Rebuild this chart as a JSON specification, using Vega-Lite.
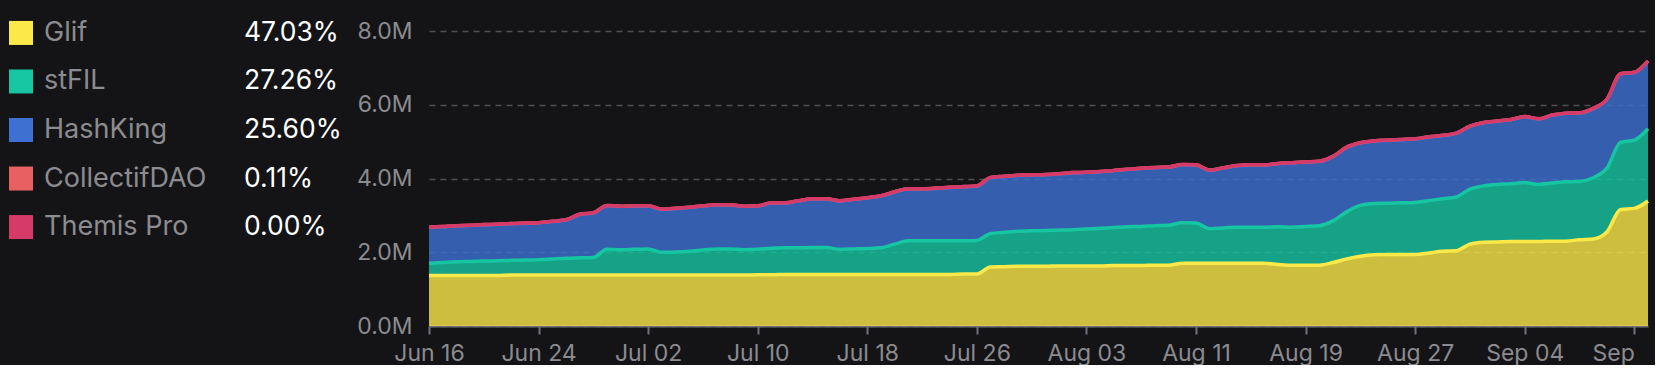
{
"$schema": "https://vega.github.io/schema/vega-lite/v6.json",
"background": "#141416",
"padding": {"left": 0, "top": 18, "right": 0, "bottom": 0},
"config": {"font": "Inter", "view": {"stroke": null}, "concat": {"spacing": 0}},
"datasets": {
"legend": [
{"name": "Glif", "pct": "47.03%", "rank": 1},
{"name": "stFIL", "pct": "27.26%", "rank": 2},
{"name": "HashKing", "pct": "25.60%", "rank": 3},
{"name": "CollectifDAO", "pct": "0.11%", "rank": 4},
{"name": "Themis Pro", "pct": "0.00%", "rank": 5}
],
"series": [
{"date":"2023-06-16","name":"Glif","value":1.37},{"date":"2023-06-16","name":"stFIL","value":0.33},{"date":"2023-06-16","name":"HashKing","value":0.972},{"date":"2023-06-16","name":"CollectifDAO","value":0.008},{"date":"2023-06-16","name":"Themis Pro","value":0},
{"date":"2023-06-17","name":"Glif","value":1.37},{"date":"2023-06-17","name":"stFIL","value":0.35},{"date":"2023-06-17","name":"HashKing","value":0.972},{"date":"2023-06-17","name":"CollectifDAO","value":0.008},{"date":"2023-06-17","name":"Themis Pro","value":0},
{"date":"2023-06-18","name":"Glif","value":1.37},{"date":"2023-06-18","name":"stFIL","value":0.37},{"date":"2023-06-18","name":"HashKing","value":0.972},{"date":"2023-06-18","name":"CollectifDAO","value":0.008},{"date":"2023-06-18","name":"Themis Pro","value":0},
{"date":"2023-06-19","name":"Glif","value":1.37},{"date":"2023-06-19","name":"stFIL","value":0.38},{"date":"2023-06-19","name":"HashKing","value":0.972},{"date":"2023-06-19","name":"CollectifDAO","value":0.008},{"date":"2023-06-19","name":"Themis Pro","value":0},
{"date":"2023-06-20","name":"Glif","value":1.37},{"date":"2023-06-20","name":"stFIL","value":0.39},{"date":"2023-06-20","name":"HashKing","value":0.982},{"date":"2023-06-20","name":"CollectifDAO","value":0.008},{"date":"2023-06-20","name":"Themis Pro","value":0},
{"date":"2023-06-21","name":"Glif","value":1.37},{"date":"2023-06-21","name":"stFIL","value":0.40},{"date":"2023-06-21","name":"HashKing","value":0.982},{"date":"2023-06-21","name":"CollectifDAO","value":0.008},{"date":"2023-06-21","name":"Themis Pro","value":0},
{"date":"2023-06-22","name":"Glif","value":1.38},{"date":"2023-06-22","name":"stFIL","value":0.40},{"date":"2023-06-22","name":"HashKing","value":0.992},{"date":"2023-06-22","name":"CollectifDAO","value":0.008},{"date":"2023-06-22","name":"Themis Pro","value":0},
{"date":"2023-06-23","name":"Glif","value":1.38},{"date":"2023-06-23","name":"stFIL","value":0.41},{"date":"2023-06-23","name":"HashKing","value":0.992},{"date":"2023-06-23","name":"CollectifDAO","value":0.008},{"date":"2023-06-23","name":"Themis Pro","value":0},
{"date":"2023-06-24","name":"Glif","value":1.38},{"date":"2023-06-24","name":"stFIL","value":0.42},{"date":"2023-06-24","name":"HashKing","value":0.992},{"date":"2023-06-24","name":"CollectifDAO","value":0.008},{"date":"2023-06-24","name":"Themis Pro","value":0},
{"date":"2023-06-25","name":"Glif","value":1.38},{"date":"2023-06-25","name":"stFIL","value":0.44},{"date":"2023-06-25","name":"HashKing","value":1.012},{"date":"2023-06-25","name":"CollectifDAO","value":0.008},{"date":"2023-06-25","name":"Themis Pro","value":0},
{"date":"2023-06-26","name":"Glif","value":1.38},{"date":"2023-06-26","name":"stFIL","value":0.46},{"date":"2023-06-26","name":"HashKing","value":1.032},{"date":"2023-06-26","name":"CollectifDAO","value":0.008},{"date":"2023-06-26","name":"Themis Pro","value":0},
{"date":"2023-06-27","name":"Glif","value":1.38},{"date":"2023-06-27","name":"stFIL","value":0.47},{"date":"2023-06-27","name":"HashKing","value":1.172},{"date":"2023-06-27","name":"CollectifDAO","value":0.008},{"date":"2023-06-27","name":"Themis Pro","value":0},
{"date":"2023-06-28","name":"Glif","value":1.38},{"date":"2023-06-28","name":"stFIL","value":0.48},{"date":"2023-06-28","name":"HashKing","value":1.202},{"date":"2023-06-28","name":"CollectifDAO","value":0.008},{"date":"2023-06-28","name":"Themis Pro","value":0},
{"date":"2023-06-29","name":"Glif","value":1.38},{"date":"2023-06-29","name":"stFIL","value":0.70},{"date":"2023-06-29","name":"HashKing","value":1.182},{"date":"2023-06-29","name":"CollectifDAO","value":0.008},{"date":"2023-06-29","name":"Themis Pro","value":0},
{"date":"2023-06-30","name":"Glif","value":1.38},{"date":"2023-06-30","name":"stFIL","value":0.69},{"date":"2023-06-30","name":"HashKing","value":1.172},{"date":"2023-06-30","name":"CollectifDAO","value":0.008},{"date":"2023-06-30","name":"Themis Pro","value":0},
{"date":"2023-07-01","name":"Glif","value":1.38},{"date":"2023-07-01","name":"stFIL","value":0.70},{"date":"2023-07-01","name":"HashKing","value":1.172},{"date":"2023-07-01","name":"CollectifDAO","value":0.008},{"date":"2023-07-01","name":"Themis Pro","value":0},
{"date":"2023-07-02","name":"Glif","value":1.38},{"date":"2023-07-02","name":"stFIL","value":0.71},{"date":"2023-07-02","name":"HashKing","value":1.162},{"date":"2023-07-02","name":"CollectifDAO","value":0.008},{"date":"2023-07-02","name":"Themis Pro","value":0},
{"date":"2023-07-03","name":"Glif","value":1.38},{"date":"2023-07-03","name":"stFIL","value":0.62},{"date":"2023-07-03","name":"HashKing","value":1.162},{"date":"2023-07-03","name":"CollectifDAO","value":0.008},{"date":"2023-07-03","name":"Themis Pro","value":0},
{"date":"2023-07-04","name":"Glif","value":1.38},{"date":"2023-07-04","name":"stFIL","value":0.63},{"date":"2023-07-04","name":"HashKing","value":1.172},{"date":"2023-07-04","name":"CollectifDAO","value":0.008},{"date":"2023-07-04","name":"Themis Pro","value":0},
{"date":"2023-07-05","name":"Glif","value":1.38},{"date":"2023-07-05","name":"stFIL","value":0.65},{"date":"2023-07-05","name":"HashKing","value":1.182},{"date":"2023-07-05","name":"CollectifDAO","value":0.008},{"date":"2023-07-05","name":"Themis Pro","value":0},
{"date":"2023-07-06","name":"Glif","value":1.38},{"date":"2023-07-06","name":"stFIL","value":0.68},{"date":"2023-07-06","name":"HashKing","value":1.192},{"date":"2023-07-06","name":"CollectifDAO","value":0.008},{"date":"2023-07-06","name":"Themis Pro","value":0},
{"date":"2023-07-07","name":"Glif","value":1.38},{"date":"2023-07-07","name":"stFIL","value":0.71},{"date":"2023-07-07","name":"HashKing","value":1.192},{"date":"2023-07-07","name":"CollectifDAO","value":0.008},{"date":"2023-07-07","name":"Themis Pro","value":0},
{"date":"2023-07-08","name":"Glif","value":1.38},{"date":"2023-07-08","name":"stFIL","value":0.71},{"date":"2023-07-08","name":"HashKing","value":1.192},{"date":"2023-07-08","name":"CollectifDAO","value":0.008},{"date":"2023-07-08","name":"Themis Pro","value":0},
{"date":"2023-07-09","name":"Glif","value":1.38},{"date":"2023-07-09","name":"stFIL","value":0.69},{"date":"2023-07-09","name":"HashKing","value":1.172},{"date":"2023-07-09","name":"CollectifDAO","value":0.008},{"date":"2023-07-09","name":"Themis Pro","value":0},
{"date":"2023-07-10","name":"Glif","value":1.39},{"date":"2023-07-10","name":"stFIL","value":0.69},{"date":"2023-07-10","name":"HashKing","value":1.172},{"date":"2023-07-10","name":"CollectifDAO","value":0.008},{"date":"2023-07-10","name":"Themis Pro","value":0},
{"date":"2023-07-11","name":"Glif","value":1.39},{"date":"2023-07-11","name":"stFIL","value":0.72},{"date":"2023-07-11","name":"HashKing","value":1.222},{"date":"2023-07-11","name":"CollectifDAO","value":0.008},{"date":"2023-07-11","name":"Themis Pro","value":0},
{"date":"2023-07-12","name":"Glif","value":1.40},{"date":"2023-07-12","name":"stFIL","value":0.72},{"date":"2023-07-12","name":"HashKing","value":1.212},{"date":"2023-07-12","name":"CollectifDAO","value":0.008},{"date":"2023-07-12","name":"Themis Pro","value":0},
{"date":"2023-07-13","name":"Glif","value":1.40},{"date":"2023-07-13","name":"stFIL","value":0.72},{"date":"2023-07-13","name":"HashKing","value":1.272},{"date":"2023-07-13","name":"CollectifDAO","value":0.008},{"date":"2023-07-13","name":"Themis Pro","value":0},
{"date":"2023-07-14","name":"Glif","value":1.40},{"date":"2023-07-14","name":"stFIL","value":0.73},{"date":"2023-07-14","name":"HashKing","value":1.312},{"date":"2023-07-14","name":"CollectifDAO","value":0.008},{"date":"2023-07-14","name":"Themis Pro","value":0},
{"date":"2023-07-15","name":"Glif","value":1.40},{"date":"2023-07-15","name":"stFIL","value":0.73},{"date":"2023-07-15","name":"HashKing","value":1.312},{"date":"2023-07-15","name":"CollectifDAO","value":0.008},{"date":"2023-07-15","name":"Themis Pro","value":0},
{"date":"2023-07-16","name":"Glif","value":1.40},{"date":"2023-07-16","name":"stFIL","value":0.68},{"date":"2023-07-16","name":"HashKing","value":1.312},{"date":"2023-07-16","name":"CollectifDAO","value":0.008},{"date":"2023-07-16","name":"Themis Pro","value":0},
{"date":"2023-07-17","name":"Glif","value":1.40},{"date":"2023-07-17","name":"stFIL","value":0.69},{"date":"2023-07-17","name":"HashKing","value":1.342},{"date":"2023-07-17","name":"CollectifDAO","value":0.008},{"date":"2023-07-17","name":"Themis Pro","value":0},
{"date":"2023-07-18","name":"Glif","value":1.40},{"date":"2023-07-18","name":"stFIL","value":0.70},{"date":"2023-07-18","name":"HashKing","value":1.372},{"date":"2023-07-18","name":"CollectifDAO","value":0.008},{"date":"2023-07-18","name":"Themis Pro","value":0},
{"date":"2023-07-19","name":"Glif","value":1.40},{"date":"2023-07-19","name":"stFIL","value":0.72},{"date":"2023-07-19","name":"HashKing","value":1.402},{"date":"2023-07-19","name":"CollectifDAO","value":0.008},{"date":"2023-07-19","name":"Themis Pro","value":0},
{"date":"2023-07-20","name":"Glif","value":1.40},{"date":"2023-07-20","name":"stFIL","value":0.82},{"date":"2023-07-20","name":"HashKing","value":1.412},{"date":"2023-07-20","name":"CollectifDAO","value":0.008},{"date":"2023-07-20","name":"Themis Pro","value":0},
{"date":"2023-07-21","name":"Glif","value":1.40},{"date":"2023-07-21","name":"stFIL","value":0.91},{"date":"2023-07-21","name":"HashKing","value":1.402},{"date":"2023-07-21","name":"CollectifDAO","value":0.008},{"date":"2023-07-21","name":"Themis Pro","value":0},
{"date":"2023-07-22","name":"Glif","value":1.40},{"date":"2023-07-22","name":"stFIL","value":0.91},{"date":"2023-07-22","name":"HashKing","value":1.402},{"date":"2023-07-22","name":"CollectifDAO","value":0.008},{"date":"2023-07-22","name":"Themis Pro","value":0},
{"date":"2023-07-23","name":"Glif","value":1.40},{"date":"2023-07-23","name":"stFIL","value":0.91},{"date":"2023-07-23","name":"HashKing","value":1.422},{"date":"2023-07-23","name":"CollectifDAO","value":0.008},{"date":"2023-07-23","name":"Themis Pro","value":0},
{"date":"2023-07-24","name":"Glif","value":1.40},{"date":"2023-07-24","name":"stFIL","value":0.91},{"date":"2023-07-24","name":"HashKing","value":1.442},{"date":"2023-07-24","name":"CollectifDAO","value":0.008},{"date":"2023-07-24","name":"Themis Pro","value":0},
{"date":"2023-07-25","name":"Glif","value":1.41},{"date":"2023-07-25","name":"stFIL","value":0.90},{"date":"2023-07-25","name":"HashKing","value":1.462},{"date":"2023-07-25","name":"CollectifDAO","value":0.008},{"date":"2023-07-25","name":"Themis Pro","value":0},
{"date":"2023-07-26","name":"Glif","value":1.41},{"date":"2023-07-26","name":"stFIL","value":0.91},{"date":"2023-07-26","name":"HashKing","value":1.472},{"date":"2023-07-26","name":"CollectifDAO","value":0.008},{"date":"2023-07-26","name":"Themis Pro","value":0},
{"date":"2023-07-27","name":"Glif","value":1.60},{"date":"2023-07-27","name":"stFIL","value":0.91},{"date":"2023-07-27","name":"HashKing","value":1.512},{"date":"2023-07-27","name":"CollectifDAO","value":0.008},{"date":"2023-07-27","name":"Themis Pro","value":0},
{"date":"2023-07-28","name":"Glif","value":1.61},{"date":"2023-07-28","name":"stFIL","value":0.93},{"date":"2023-07-28","name":"HashKing","value":1.512},{"date":"2023-07-28","name":"CollectifDAO","value":0.008},{"date":"2023-07-28","name":"Themis Pro","value":0},
{"date":"2023-07-29","name":"Glif","value":1.62},{"date":"2023-07-29","name":"stFIL","value":0.95},{"date":"2023-07-29","name":"HashKing","value":1.512},{"date":"2023-07-29","name":"CollectifDAO","value":0.008},{"date":"2023-07-29","name":"Themis Pro","value":0},
{"date":"2023-07-30","name":"Glif","value":1.62},{"date":"2023-07-30","name":"stFIL","value":0.96},{"date":"2023-07-30","name":"HashKing","value":1.512},{"date":"2023-07-30","name":"CollectifDAO","value":0.008},{"date":"2023-07-30","name":"Themis Pro","value":0},
{"date":"2023-07-31","name":"Glif","value":1.62},{"date":"2023-07-31","name":"stFIL","value":0.97},{"date":"2023-07-31","name":"HashKing","value":1.512},{"date":"2023-07-31","name":"CollectifDAO","value":0.008},{"date":"2023-07-31","name":"Themis Pro","value":0},
{"date":"2023-08-01","name":"Glif","value":1.63},{"date":"2023-08-01","name":"stFIL","value":0.97},{"date":"2023-08-01","name":"HashKing","value":1.522},{"date":"2023-08-01","name":"CollectifDAO","value":0.008},{"date":"2023-08-01","name":"Themis Pro","value":0},
{"date":"2023-08-02","name":"Glif","value":1.63},{"date":"2023-08-02","name":"stFIL","value":0.98},{"date":"2023-08-02","name":"HashKing","value":1.542},{"date":"2023-08-02","name":"CollectifDAO","value":0.008},{"date":"2023-08-02","name":"Themis Pro","value":0},
{"date":"2023-08-03","name":"Glif","value":1.63},{"date":"2023-08-03","name":"stFIL","value":1.00},{"date":"2023-08-03","name":"HashKing","value":1.532},{"date":"2023-08-03","name":"CollectifDAO","value":0.008},{"date":"2023-08-03","name":"Themis Pro","value":0},
{"date":"2023-08-04","name":"Glif","value":1.63},{"date":"2023-08-04","name":"stFIL","value":1.02},{"date":"2023-08-04","name":"HashKing","value":1.532},{"date":"2023-08-04","name":"CollectifDAO","value":0.008},{"date":"2023-08-04","name":"Themis Pro","value":0},
{"date":"2023-08-05","name":"Glif","value":1.64},{"date":"2023-08-05","name":"stFIL","value":1.03},{"date":"2023-08-05","name":"HashKing","value":1.542},{"date":"2023-08-05","name":"CollectifDAO","value":0.008},{"date":"2023-08-05","name":"Themis Pro","value":0},
{"date":"2023-08-06","name":"Glif","value":1.64},{"date":"2023-08-06","name":"stFIL","value":1.05},{"date":"2023-08-06","name":"HashKing","value":1.552},{"date":"2023-08-06","name":"CollectifDAO","value":0.008},{"date":"2023-08-06","name":"Themis Pro","value":0},
{"date":"2023-08-07","name":"Glif","value":1.64},{"date":"2023-08-07","name":"stFIL","value":1.06},{"date":"2023-08-07","name":"HashKing","value":1.572},{"date":"2023-08-07","name":"CollectifDAO","value":0.008},{"date":"2023-08-07","name":"Themis Pro","value":0},
{"date":"2023-08-08","name":"Glif","value":1.65},{"date":"2023-08-08","name":"stFIL","value":1.07},{"date":"2023-08-08","name":"HashKing","value":1.572},{"date":"2023-08-08","name":"CollectifDAO","value":0.008},{"date":"2023-08-08","name":"Themis Pro","value":0},
{"date":"2023-08-09","name":"Glif","value":1.65},{"date":"2023-08-09","name":"stFIL","value":1.08},{"date":"2023-08-09","name":"HashKing","value":1.572},{"date":"2023-08-09","name":"CollectifDAO","value":0.008},{"date":"2023-08-09","name":"Themis Pro","value":0},
{"date":"2023-08-10","name":"Glif","value":1.70},{"date":"2023-08-10","name":"stFIL","value":1.10},{"date":"2023-08-10","name":"HashKing","value":1.572},{"date":"2023-08-10","name":"CollectifDAO","value":0.008},{"date":"2023-08-10","name":"Themis Pro","value":0},
{"date":"2023-08-11","name":"Glif","value":1.70},{"date":"2023-08-11","name":"stFIL","value":1.09},{"date":"2023-08-11","name":"HashKing","value":1.572},{"date":"2023-08-11","name":"CollectifDAO","value":0.008},{"date":"2023-08-11","name":"Themis Pro","value":0},
{"date":"2023-08-12","name":"Glif","value":1.70},{"date":"2023-08-12","name":"stFIL","value":0.94},{"date":"2023-08-12","name":"HashKing","value":1.582},{"date":"2023-08-12","name":"CollectifDAO","value":0.008},{"date":"2023-08-12","name":"Themis Pro","value":0},
{"date":"2023-08-13","name":"Glif","value":1.70},{"date":"2023-08-13","name":"stFIL","value":0.96},{"date":"2023-08-13","name":"HashKing","value":1.622},{"date":"2023-08-13","name":"CollectifDAO","value":0.008},{"date":"2023-08-13","name":"Themis Pro","value":0},
{"date":"2023-08-14","name":"Glif","value":1.70},{"date":"2023-08-14","name":"stFIL","value":0.98},{"date":"2023-08-14","name":"HashKing","value":1.662},{"date":"2023-08-14","name":"CollectifDAO","value":0.008},{"date":"2023-08-14","name":"Themis Pro","value":0},
{"date":"2023-08-15","name":"Glif","value":1.70},{"date":"2023-08-15","name":"stFIL","value":0.98},{"date":"2023-08-15","name":"HashKing","value":1.682},{"date":"2023-08-15","name":"CollectifDAO","value":0.008},{"date":"2023-08-15","name":"Themis Pro","value":0},
{"date":"2023-08-16","name":"Glif","value":1.70},{"date":"2023-08-16","name":"stFIL","value":0.98},{"date":"2023-08-16","name":"HashKing","value":1.682},{"date":"2023-08-16","name":"CollectifDAO","value":0.008},{"date":"2023-08-16","name":"Themis Pro","value":0},
{"date":"2023-08-17","name":"Glif","value":1.67},{"date":"2023-08-17","name":"stFIL","value":1.02},{"date":"2023-08-17","name":"HashKing","value":1.712},{"date":"2023-08-17","name":"CollectifDAO","value":0.008},{"date":"2023-08-17","name":"Themis Pro","value":0},
{"date":"2023-08-18","name":"Glif","value":1.65},{"date":"2023-08-18","name":"stFIL","value":1.03},{"date":"2023-08-18","name":"HashKing","value":1.742},{"date":"2023-08-18","name":"CollectifDAO","value":0.008},{"date":"2023-08-18","name":"Themis Pro","value":0},
{"date":"2023-08-19","name":"Glif","value":1.65},{"date":"2023-08-19","name":"stFIL","value":1.05},{"date":"2023-08-19","name":"HashKing","value":1.742},{"date":"2023-08-19","name":"CollectifDAO","value":0.008},{"date":"2023-08-19","name":"Themis Pro","value":0},
{"date":"2023-08-20","name":"Glif","value":1.65},{"date":"2023-08-20","name":"stFIL","value":1.07},{"date":"2023-08-20","name":"HashKing","value":1.742},{"date":"2023-08-20","name":"CollectifDAO","value":0.008},{"date":"2023-08-20","name":"Themis Pro","value":0},
{"date":"2023-08-21","name":"Glif","value":1.72},{"date":"2023-08-21","name":"stFIL","value":1.13},{"date":"2023-08-21","name":"HashKing","value":1.742},{"date":"2023-08-21","name":"CollectifDAO","value":0.008},{"date":"2023-08-21","name":"Themis Pro","value":0},
{"date":"2023-08-22","name":"Glif","value":1.82},{"date":"2023-08-22","name":"stFIL","value":1.28},{"date":"2023-08-22","name":"HashKing","value":1.742},{"date":"2023-08-22","name":"CollectifDAO","value":0.008},{"date":"2023-08-22","name":"Themis Pro","value":0},
{"date":"2023-08-23","name":"Glif","value":1.89},{"date":"2023-08-23","name":"stFIL","value":1.38},{"date":"2023-08-23","name":"HashKing","value":1.692},{"date":"2023-08-23","name":"CollectifDAO","value":0.008},{"date":"2023-08-23","name":"Themis Pro","value":0},
{"date":"2023-08-24","name":"Glif","value":1.93},{"date":"2023-08-24","name":"stFIL","value":1.39},{"date":"2023-08-24","name":"HashKing","value":1.692},{"date":"2023-08-24","name":"CollectifDAO","value":0.008},{"date":"2023-08-24","name":"Themis Pro","value":0},
{"date":"2023-08-25","name":"Glif","value":1.94},{"date":"2023-08-25","name":"stFIL","value":1.39},{"date":"2023-08-25","name":"HashKing","value":1.702},{"date":"2023-08-25","name":"CollectifDAO","value":0.008},{"date":"2023-08-25","name":"Themis Pro","value":0},
{"date":"2023-08-26","name":"Glif","value":1.94},{"date":"2023-08-26","name":"stFIL","value":1.40},{"date":"2023-08-26","name":"HashKing","value":1.712},{"date":"2023-08-26","name":"CollectifDAO","value":0.008},{"date":"2023-08-26","name":"Themis Pro","value":0},
{"date":"2023-08-27","name":"Glif","value":1.94},{"date":"2023-08-27","name":"stFIL","value":1.41},{"date":"2023-08-27","name":"HashKing","value":1.722},{"date":"2023-08-27","name":"CollectifDAO","value":0.008},{"date":"2023-08-27","name":"Themis Pro","value":0},
{"date":"2023-08-28","name":"Glif","value":1.98},{"date":"2023-08-28","name":"stFIL","value":1.42},{"date":"2023-08-28","name":"HashKing","value":1.722},{"date":"2023-08-28","name":"CollectifDAO","value":0.008},{"date":"2023-08-28","name":"Themis Pro","value":0},
{"date":"2023-08-29","name":"Glif","value":2.03},{"date":"2023-08-29","name":"stFIL","value":1.42},{"date":"2023-08-29","name":"HashKing","value":1.712},{"date":"2023-08-29","name":"CollectifDAO","value":0.008},{"date":"2023-08-29","name":"Themis Pro","value":0},
{"date":"2023-08-30","name":"Glif","value":2.04},{"date":"2023-08-30","name":"stFIL","value":1.46},{"date":"2023-08-30","name":"HashKing","value":1.722},{"date":"2023-08-30","name":"CollectifDAO","value":0.008},{"date":"2023-08-30","name":"Themis Pro","value":0},
{"date":"2023-08-31","name":"Glif","value":2.22},{"date":"2023-08-31","name":"stFIL","value":1.49},{"date":"2023-08-31","name":"HashKing","value":1.702},{"date":"2023-08-31","name":"CollectifDAO","value":0.008},{"date":"2023-08-31","name":"Themis Pro","value":0},
{"date":"2023-09-01","name":"Glif","value":2.27},{"date":"2023-09-01","name":"stFIL","value":1.53},{"date":"2023-09-01","name":"HashKing","value":1.712},{"date":"2023-09-01","name":"CollectifDAO","value":0.008},{"date":"2023-09-01","name":"Themis Pro","value":0},
{"date":"2023-09-02","name":"Glif","value":2.28},{"date":"2023-09-02","name":"stFIL","value":1.56},{"date":"2023-09-02","name":"HashKing","value":1.712},{"date":"2023-09-02","name":"CollectifDAO","value":0.008},{"date":"2023-09-02","name":"Themis Pro","value":0},
{"date":"2023-09-03","name":"Glif","value":2.29},{"date":"2023-09-03","name":"stFIL","value":1.57},{"date":"2023-09-03","name":"HashKing","value":1.732},{"date":"2023-09-03","name":"CollectifDAO","value":0.008},{"date":"2023-09-03","name":"Themis Pro","value":0},
{"date":"2023-09-04","name":"Glif","value":2.29},{"date":"2023-09-04","name":"stFIL","value":1.60},{"date":"2023-09-04","name":"HashKing","value":1.782},{"date":"2023-09-04","name":"CollectifDAO","value":0.008},{"date":"2023-09-04","name":"Themis Pro","value":0},
{"date":"2023-09-05","name":"Glif","value":2.29},{"date":"2023-09-05","name":"stFIL","value":1.55},{"date":"2023-09-05","name":"HashKing","value":1.772},{"date":"2023-09-05","name":"CollectifDAO","value":0.008},{"date":"2023-09-05","name":"Themis Pro","value":0},
{"date":"2023-09-06","name":"Glif","value":2.30},{"date":"2023-09-06","name":"stFIL","value":1.58},{"date":"2023-09-06","name":"HashKing","value":1.832},{"date":"2023-09-06","name":"CollectifDAO","value":0.008},{"date":"2023-09-06","name":"Themis Pro","value":0},
{"date":"2023-09-07","name":"Glif","value":2.30},{"date":"2023-09-07","name":"stFIL","value":1.61},{"date":"2023-09-07","name":"HashKing","value":1.852},{"date":"2023-09-07","name":"CollectifDAO","value":0.008},{"date":"2023-09-07","name":"Themis Pro","value":0},
{"date":"2023-09-08","name":"Glif","value":2.34},{"date":"2023-09-08","name":"stFIL","value":1.58},{"date":"2023-09-08","name":"HashKing","value":1.852},{"date":"2023-09-08","name":"CollectifDAO","value":0.008},{"date":"2023-09-08","name":"Themis Pro","value":0},
{"date":"2023-09-09","name":"Glif","value":2.36},{"date":"2023-09-09","name":"stFIL","value":1.66},{"date":"2023-09-09","name":"HashKing","value":1.872},{"date":"2023-09-09","name":"CollectifDAO","value":0.008},{"date":"2023-09-09","name":"Themis Pro","value":0},
{"date":"2023-09-10","name":"Glif","value":2.55},{"date":"2023-09-10","name":"stFIL","value":1.73},{"date":"2023-09-10","name":"HashKing","value":1.862},{"date":"2023-09-10","name":"CollectifDAO","value":0.008},{"date":"2023-09-10","name":"Themis Pro","value":0},
{"date":"2023-09-11","name":"Glif","value":3.16},{"date":"2023-09-11","name":"stFIL","value":1.82},{"date":"2023-09-11","name":"HashKing","value":1.852},{"date":"2023-09-11","name":"CollectifDAO","value":0.008},{"date":"2023-09-11","name":"Themis Pro","value":0},
{"date":"2023-09-12","name":"Glif","value":3.19},{"date":"2023-09-12","name":"stFIL","value":1.85},{"date":"2023-09-12","name":"HashKing","value":1.832},{"date":"2023-09-12","name":"CollectifDAO","value":0.008},{"date":"2023-09-12","name":"Themis Pro","value":0},
{"date":"2023-09-13","name":"Glif","value":3.39},{"date":"2023-09-13","name":"stFIL","value":1.96},{"date":"2023-09-13","name":"HashKing","value":1.832},{"date":"2023-09-13","name":"CollectifDAO","value":0.008},{"date":"2023-09-13","name":"Themis Pro","value":0}
]
},
"hconcat": [
{
"width": 356,
"height": 198,
"data": {"name": "legend"},
"encoding": {
"y": {"field": "name", "type": "nominal", "sort": ["Glif", "stFIL", "HashKing", "CollectifDAO", "Themis Pro"], "scale": {"type": "point", "padding": 0.04}, "axis": null}
},
"layer": [
{"mark": {"type": "square", "size": 576, "filled": true, "opacity": 1},
 "encoding": {
 "x": {"datum": 21, "type": "quantitative", "scale": {"domain": [0, 356], "nice": false, "zero": false}, "axis": null},
 "color": {"field": "name", "type": "nominal", "scale": {"domain": ["Glif", "stFIL", "HashKing", "CollectifDAO", "Themis Pro"], "range": ["#fbe94a", "#16c6a2", "#3e70d4", "#e8605f", "#d63a69"]}, "legend": null}
 }},
{"mark": {"type": "text", "align": "left", "baseline": "middle", "fontSize": 27, "color": "#8c8c90"},
 "encoding": {"x": {"datum": 44, "type": "quantitative"}, "text": {"field": "name"}}},
{"mark": {"type": "text", "align": "left", "baseline": "middle", "fontSize": 26.5, "color": "#ffffff"},
 "encoding": {"x": {"datum": 244, "type": "quantitative"}, "text": {"field": "pct"}}}
]
},
{
"width": 1219,
"height": 295,
"data": {"name": "series"},
"transform": [
{"lookup": "name", "from": {"data": {"name": "legend"}, "key": "name", "fields": ["rank"]}}
],
"encoding": {
"x": {"field": "date", "type": "temporal", "scale": {"type": "utc", "nice": false},
 "axis": {
  "values": [
   {"year": 2023, "month": 6, "date": 16, "utc": true},
   {"year": 2023, "month": 6, "date": 24, "utc": true},
   {"year": 2023, "month": 7, "date": 2, "utc": true},
   {"year": 2023, "month": 7, "date": 10, "utc": true},
   {"year": 2023, "month": 7, "date": 18, "utc": true},
   {"year": 2023, "month": 7, "date": 26, "utc": true},
   {"year": 2023, "month": 8, "date": 3, "utc": true},
   {"year": 2023, "month": 8, "date": 11, "utc": true},
   {"year": 2023, "month": 8, "date": 19, "utc": true},
   {"year": 2023, "month": 8, "date": 27, "utc": true},
   {"year": 2023, "month": 9, "date": 4, "utc": true},
   {"year": 2023, "month": 9, "date": 12, "utc": true}
  ],
  "labelExpr": "(utcmonth(datum.value) == 8 && utcdate(datum.value) == 12) ? 'Sep' : utcFormat(datum.value, '%b %d')",
  "labelAlign": {"condition": {"test": "utcmonth(datum.value) == 8 && utcdate(datum.value) == 12", "value": "right"}, "value": "center"},
  "labelOverlap": false, "labelFlush": false,
  "grid": false, "title": null,
  "domainColor": "#6e7079", "domainWidth": 2,
  "tickColor": "#6e7079", "tickSize": 8, "tickWidth": 2,
  "labelFontSize": 23, "labelColor": "#8b8b90", "labelPadding": 8
 }},
"y": {"field": "value", "type": "quantitative", "stack": "zero", "scale": {"domain": [0, 8], "nice": false},
 "axis": {
  "values": [0, 2, 4, 6, 8],
  "labelExpr": "format(datum.value, '.1f') + 'M'",
  "grid": true, "gridDash": [6, 5], "gridColor": "#4e4e53", "gridWidth": 1.5,
  "domain": false, "ticks": false, "title": null,
  "labelFontSize": 23, "labelColor": "#8b8b90", "labelPadding": 17,
  "minExtent": 71, "maxExtent": 71
 }},
"order": {"field": "rank", "type": "quantitative", "sort": "ascending"},
"color": {"field": "name", "type": "nominal",
 "scale": {"domain": ["Glif", "stFIL", "HashKing", "CollectifDAO", "Themis Pro"], "range": ["#fbe94a", "#1dc0a0", "#4172d1", "#e8605f", "#d63a69"]}, "legend": null}
},
"layer": [
{"mark": {"type": "area", "interpolate": "monotone", "opacity": 0.8}},
{"mark": {"type": "line", "interpolate": "monotone", "strokeWidth": 3.5}}
]
}
]
}
